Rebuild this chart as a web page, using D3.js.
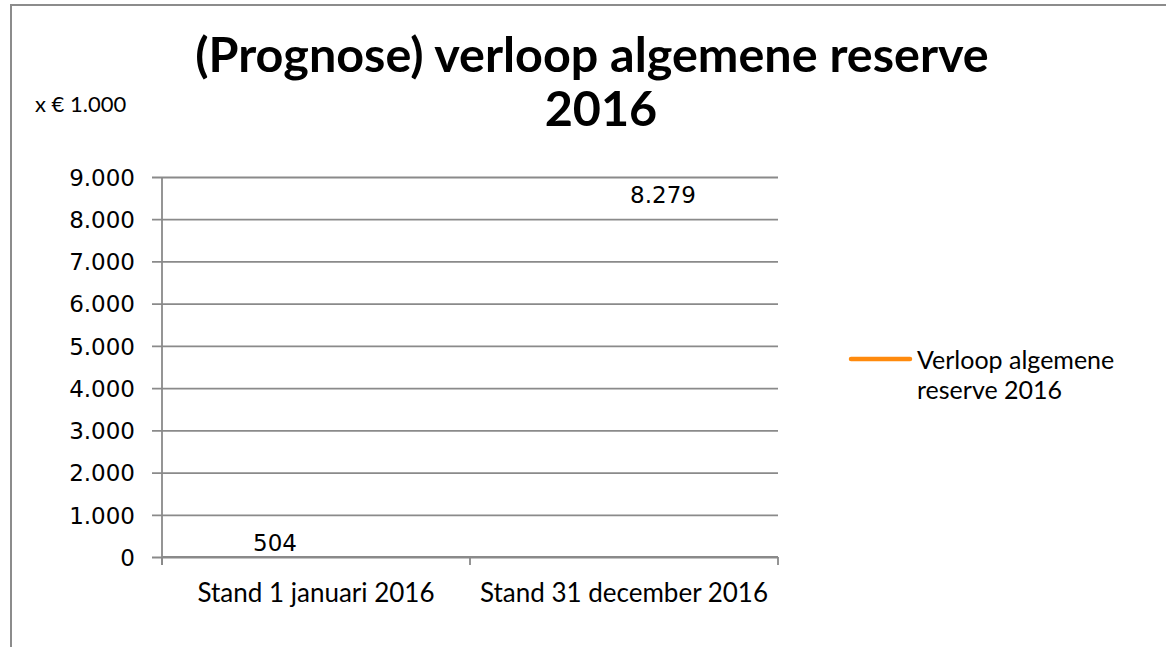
<!DOCTYPE html>
<html>
<head>
<meta charset="utf-8">
<script src="https://cdn.jsdelivr.net/npm/d3@7"></script>
<style>
    body { margin: 0; background: #fff; }
    svg text { fill: #000; }
</style>
</head>
<body>
<div id="chart"></div>
<script>
(function () {
    'use strict';

    let categories = ['Stand 1 januari 2016', 'Stand 31 december 2016'];
    let values = [504, 8279];
    let valueLabels = ['504', '8.279'];
    let yTicks = [0, 1000, 2000, 3000, 4000, 5000, 6000, 7000, 8000, 9000];
    let seriesName = ['Verloop algemene', 'reserve 2016'];
    let titleLines = ['(Prognose) verloop algemene reserve', '2016'];

    let width = 1166, height = 647;
    let plot = { left: 162, right: 778, top: 177, bottom: 557 };

    let svg = d3.select('#chart').append('svg')
        .attr('width', width)
        .attr('height', height);

    // outer chart frame (cut off on the right and bottom)
    svg.append('path')
        .attr('d', 'M11,' + (height + 5) + 'V5H' + (width + 5))
        .attr('fill', 'none')
        .attr('stroke', '#8c8c8c')
        .attr('stroke-width', 2);

    let xScale = d3.scaleBand()
        .domain(categories)
        .range([plot.left, plot.right]);
    let yScale = d3.scaleLinear()
        .domain([0, 9000])
        .range([plot.bottom, plot.top]);

    let fmt = function (d) {
        return d3.format(',')(d).replace(/,/g, '.');
    };

    // gridlines + y axis
    let yAxis = d3.axisLeft(yScale)
        .tickValues(yTicks)
        .tickSize(-(plot.right - plot.left))
        .tickFormat(fmt);
    let yg = svg.append('g')
        .attr('transform', 'translate(' + plot.left + ',0)')
        .call(yAxis);
    yg.select('.domain').remove();
    yg.selectAll('.tick line')
        .attr('x2', plot.right - plot.left)
        .attr('x1', -10)
        .attr('stroke', '#8a8a8a')
        .attr('stroke-width', 1.8);
    yg.selectAll('.tick text')
        .attr('x', -27)
        .attr('dy', '0.36em')
        .style('font-family', '"DejaVu Sans", sans-serif')
        .style('font-size', '23px');

    // vertical axis line
    svg.append('line')
        .attr('x1', plot.left).attr('x2', plot.left)
        .attr('y1', plot.top).attr('y2', plot.bottom + 8)
        .attr('stroke', '#8a8a8a')
        .attr('stroke-width', 1.8);

    // x axis with ticks between categories
    let xg = svg.append('g')
        .attr('transform', 'translate(0,' + plot.bottom + ')');
    let bounds = categories.map(function (c) { return xScale(c); }).concat([plot.right]);
    xg.selectAll('line.sep')
        .data(bounds)
        .enter().append('line')
        .attr('class', 'sep')
        .attr('x1', function (d) { return d; })
        .attr('x2', function (d) { return d; })
        .attr('y1', 0).attr('y2', 8)
        .attr('stroke', '#8a8a8a')
        .attr('stroke-width', 1.8);
    xg.append('line')
        .attr('x1', plot.left).attr('x2', plot.right)
        .attr('stroke', '#8a8a8a')
        .attr('stroke-width', 1.8);
    xg.selectAll('text')
        .data(categories)
        .enter().append('text')
        .attr('x', function (d) { return xScale(d) + xScale.bandwidth() / 2; })
        .attr('y', 45)
        .attr('text-anchor', 'middle')
        .style('font-family', 'Lato, sans-serif')
        .style('font-size', '26px')
        .text(function (d) { return d; });

    // data labels (the series line itself is not visible in the original)
    let labelOffset = [[-41, 15], [39, -4]];
    svg.selectAll('text.dlabel')
        .data(values)
        .enter().append('text')
        .attr('class', 'dlabel')
        .attr('x', function (d, i) { return xScale(categories[i]) + xScale.bandwidth() / 2 + labelOffset[i][0]; })
        .attr('y', function (d, i) { return yScale(d) + labelOffset[i][1]; })
        .attr('text-anchor', 'middle')
        .style('font-family', '"DejaVu Sans", sans-serif')
        .style('font-size', '23px')
        .text(function (d, i) { return valueLabels[i]; });

    // title
    let titleX = [592, 601];
    svg.selectAll('text.title')
        .data(titleLines)
        .enter().append('text')
        .attr('class', 'title')
        .attr('x', function (d, i) { return titleX[i]; })
        .attr('y', function (d, i) { return 72 + i * 54; })
        .attr('text-anchor', 'middle')
        .style('font-family', 'Lato, sans-serif')
        .style('font-weight', 'bold')
        .style('font-size', '48.5px')
        .text(function (d) { return d; });

    svg.append('text')
        .attr('x', 35)
        .attr('y', 112)
        .style('font-family', 'Lato, sans-serif')
        .style('font-size', '22px')
        .text('x \u20ac 1.000');

    // legend
    let legend = svg.append('g').attr('transform', 'translate(851,359)');
    legend.append('line')
        .attr('x1', 0).attr('x2', 59)
        .attr('stroke', '#ff8a0d')
        .attr('stroke-width', 4.5)
        .attr('stroke-linecap', 'round');
    legend.selectAll('text')
        .data(seriesName)
        .enter().append('text')
        .attr('x', 66)
        .attr('y', function (d, i) { return 10 + i * 30; })
        .style('font-family', 'Lato, sans-serif')
        .style('font-size', '25px')
        .text(function (d) { return d; });
})();
</script>
</body>
</html>
